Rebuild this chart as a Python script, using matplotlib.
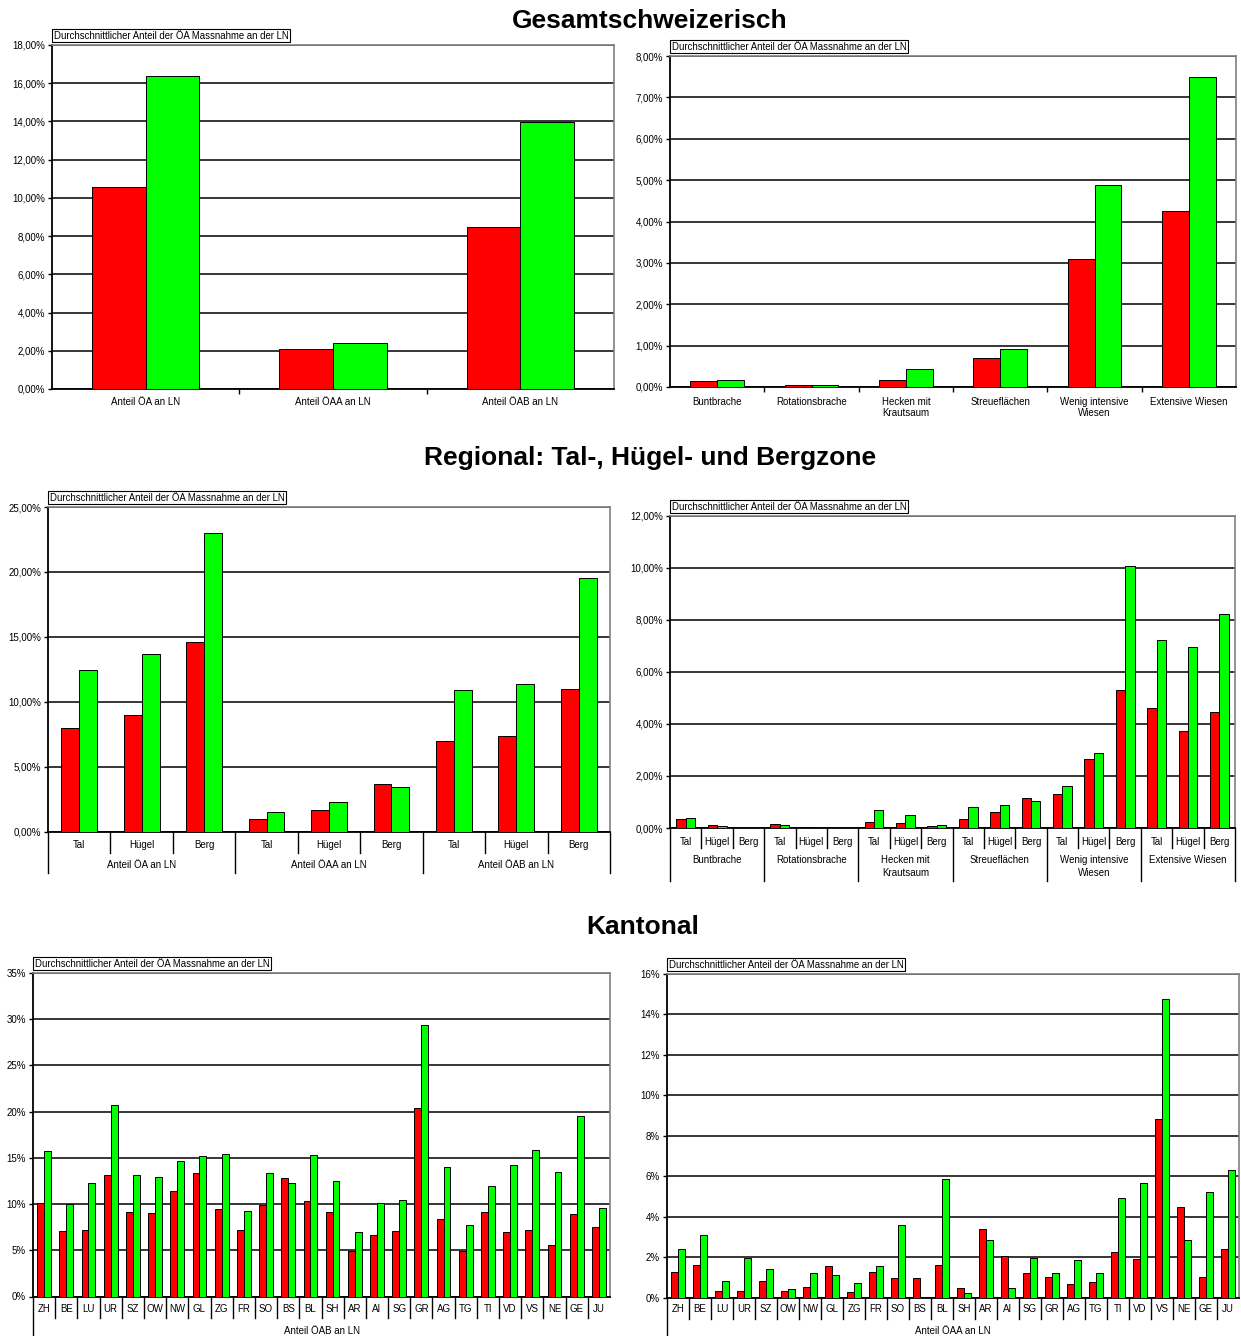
import numpy as np
import matplotlib
matplotlib.use("Agg")
import matplotlib.pyplot as plt
from matplotlib.ticker import FuncFormatter

plt.rcParams['font.family'] = ['Liberation Sans', 'DejaVu Sans']

W, H = 1241, 1336

# --- data (percent) ---
gesamt_cats = ["Anteil ÖA an LN", "Anteil ÖAA an LN", "Anteil ÖAB an LN"]
gesamt_red = [10.57, 2.11, 8.48]
gesamt_green = [16.40, 2.41, 13.99]

massn_cats = ["Buntbrache", "Rotationsbrache", "Hecken mit\nKrautsaum",
              "Streueflächen", "Wenig intensive\nWiesen", "Extensive Wiesen"]
massn_red = [0.15, 0.06, 0.18, 0.71, 3.09, 4.26]
massn_green = [0.16, 0.04, 0.44, 0.93, 4.89, 7.49]

zonen = ["Tal", "Hügel", "Berg"]
reg_anteil_red = [8.00, 8.98, 14.63, 0.98, 1.65, 3.65, 7.00, 7.36, 11.01]
reg_anteil_green = [12.47, 13.68, 22.97, 1.49, 2.29, 3.40, 10.93, 11.39, 19.55]

reg_massn_red = [0.33, 0.13, 0.00, 0.14, 0.05, 0.00, 0.22, 0.21, 0.09,
                 0.36, 0.60, 1.14, 1.32, 2.64, 5.31, 4.61, 3.72, 4.45]
reg_massn_green = [0.40, 0.08, 0.00, 0.13, 0.01, 0.00, 0.69, 0.50, 0.13,
                   0.82, 0.90, 1.05, 1.63, 2.90, 10.09, 7.25, 6.98, 8.25]

kantone = ["ZH", "BE", "LU", "UR", "SZ", "OW", "NW", "GL", "ZG", "FR", "SO", "BS", "BL",
           "SH", "AR", "AI", "SG", "GR", "AG", "TG", "TI", "VD", "VS", "NE", "GE", "JU"]
oeab_red = [10.15, 7.11, 7.22, 13.18, 9.10, 8.99, 11.38, 13.40, 9.43, 7.22, 9.90, 12.78, 10.29,
            9.14, 4.95, 6.68, 7.08, 20.37, 8.41, 4.95, 9.17, 6.93, 7.22, 5.53, 8.92, 7.55]
oeab_green = [15.75, 10.04, 12.28, 20.73, 13.18, 12.96, 14.63, 15.24, 15.38, 9.25, 13.33, 12.24, 15.28,
              12.50, 7.01, 10.15, 10.44, 29.40, 14.01, 7.76, 11.99, 14.19, 15.82, 13.43, 19.57, 9.57]
oeaa_red = [1.24, 1.60, 0.30, 0.33, 0.84, 0.30, 0.51, 1.58, 0.25, 1.25, 0.96, 0.94, 1.61,
            0.48, 3.39, 2.03, 1.19, 1.02, 0.69, 0.79, 2.27, 1.89, 8.82, 4.48, 1.01, 2.39]
oeaa_green = [2.42, 3.10, 0.84, 1.94, 1.42, 0.40, 1.19, 1.12, 0.72, 1.58, 3.59, 0.00, 5.87,
              0.20, 2.83, 0.49, 1.96, 1.22, 1.86, 1.19, 4.94, 5.64, 14.75, 2.85, 5.22, 6.31]

legend_text = "Durchschnittlicher Anteil der ÖA Massnahme an der LN"
RED, GREEN = "#FF0000", "#00FF00"

fig = plt.figure(figsize=(W / 100, H / 100), dpi=100)


def add_ax(x0, y0, x1, y1):
    return fig.add_axes([x0 / W, 1 - y1 / H, (x1 - x0) / W, (y1 - y0) / H])


def frac(ax, px):
    return px / (ax.get_position().height * H)


def style(ax, ymax, step, fmt):
    ax.set_ylim(0, ymax)
    ax.set_yticks(np.arange(0, ymax + step / 2, step))
    ax.yaxis.set_major_formatter(FuncFormatter(fmt))
    ax.yaxis.grid(True, color="black", lw=1.1)
    ax.set_axisbelow(True)
    for s in ("left", "bottom"):
        ax.spines[s].set_color("black")
        ax.spines[s].set_linewidth(1.3)
    for s in ("top", "right"):
        ax.spines[s].set_color("#808080")
        ax.spines[s].set_linewidth(1.2)
    ax.tick_params(axis="y", direction="out", length=3, width=1, labelsize=7, pad=2)
    ax.annotate(legend_text, xy=(0, 1), xycoords="axes fraction", xytext=(1.3, 3.2),
                textcoords="offset points", ha="left", va="bottom", fontsize=6.9,
                bbox=dict(boxstyle="square,pad=0.15", fc="white", ec="black", lw=0.8))


def bars(ax, red, green, w):
    x = np.arange(len(red))
    ax.bar(x - w / 2, red, w, color=RED, edgecolor="black", lw=0.7, zorder=3)
    ax.bar(x + w / 2, green, w, color=GREEN, edgecolor="black", lw=0.7, zorder=3)
    ax.set_xlim(-0.5, len(red) - 0.5)
    return x


def vline(ax, x, px):
    ax.plot([x, x], [0, -frac(ax, px)], transform=ax.get_xaxis_transform(),
            color="black", lw=1, clip_on=False)


def label(ax, x, px, txt, va="center", ls=1.05):
    ax.text(x, -frac(ax, px), txt, transform=ax.get_xaxis_transform(),
            ha="center", va=va, fontsize=7, linespacing=ls)


fmt2 = lambda v, p: f"{v:.2f}".replace(".", ",") + "%"
fmt0 = lambda v, p: f"{v:.0f}%"

# --- titles ---
fig.text(650 / W, 1 - 21 / H, "Gesamtschweizerisch", ha="center", va="center",
         fontsize=19, fontweight="bold")
fig.text(650 / W, 1 - 458 / H, "Regional: Tal-, Hügel- und Bergzone", ha="center",
         va="center", fontsize=19, fontweight="bold")
fig.text(643 / W, 1 - 927 / H, "Kantonal", ha="center", va="center",
         fontsize=19, fontweight="bold")

# --- top left ---
ax = add_ax(52, 45, 614, 389)
style(ax, 18, 2, fmt2)
x = bars(ax, gesamt_red, gesamt_green, 0.286)
ax.set_xticks(x)
ax.set_xticklabels(gesamt_cats, fontsize=7)
ax.set_xticks(np.arange(0.5, len(x) - 0.5), minor=True)
ax.tick_params(axis="x", which="major", length=0, pad=6)
ax.tick_params(axis="x", which="minor", length=3.5, width=1, direction="out")

# --- top right ---
ax = add_ax(670, 56, 1236, 387)
style(ax, 8, 1, fmt2)
x = bars(ax, massn_red, massn_green, 0.286)
ax.set_xticks(x)
ax.set_xticklabels(massn_cats, fontsize=7, linespacing=1.15)
ax.set_xticks(np.arange(0.5, len(x) - 0.5), minor=True)
ax.tick_params(axis="x", which="major", length=0, pad=7)
ax.tick_params(axis="x", which="minor", length=3.5, width=1, direction="out")

# --- middle left ---
ax = add_ax(48, 507, 610, 831.5)
style(ax, 25, 5, fmt2)
x = bars(ax, reg_anteil_red, reg_anteil_green, 0.286)
ax.set_xticks([])
for i, xi in enumerate(x):
    label(ax, xi, 13.5, zonen[i % 3])
for b in np.arange(-0.5, len(x), 1):
    vline(ax, b, 41 if (b + 0.5) % 3 == 0 else 21)
for g, name in enumerate(gesamt_cats):
    label(ax, 3 * g + 1, 34, name)

# --- middle right ---
ax = add_ax(670, 516, 1235, 828)
style(ax, 12, 2, fmt2)
x = bars(ax, reg_massn_red, reg_massn_green, 0.3)
ax.set_xticks([])
for i, xi in enumerate(x):
    label(ax, xi, 14, zonen[i % 3])
for b in np.arange(-0.5, len(x), 1):
    vline(ax, b, 53 if (b + 0.5) % 3 == 0 else 20)
for g, name in enumerate(massn_cats):
    label(ax, 3 * g + 1, 27, name, va="top", ls=1.35)

# --- bottom left ---
ax = add_ax(33, 973, 610, 1296.5)
style(ax, 35, 5, fmt0)
x = bars(ax, oeab_red, oeab_green, 0.31)
ax.set_xticks([])
for i, xi in enumerate(x):
    label(ax, xi, 12, kantone[i])
for b in np.arange(0.5, len(x) - 1, 1):
    vline(ax, b, 21)
vline(ax, -0.5, 45)
label(ax, (len(x) - 1) / 2, 34, "Anteil ÖAB an LN")

# --- bottom right ---
ax = add_ax(667, 974, 1239, 1297.5)
style(ax, 16, 2, fmt0)
x = bars(ax, oeaa_red, oeaa_green, 0.3)
ax.set_xticks([])
for i, xi in enumerate(x):
    label(ax, xi, 12, kantone[i])
for b in np.arange(0.5, len(x) - 1, 1):
    vline(ax, b, 21)
vline(ax, -0.5, 45)
label(ax, (len(x) - 1) / 2, 34, "Anteil ÖAA an LN")

fig.savefig("out.png", dpi=100)
plt.close(fig)
